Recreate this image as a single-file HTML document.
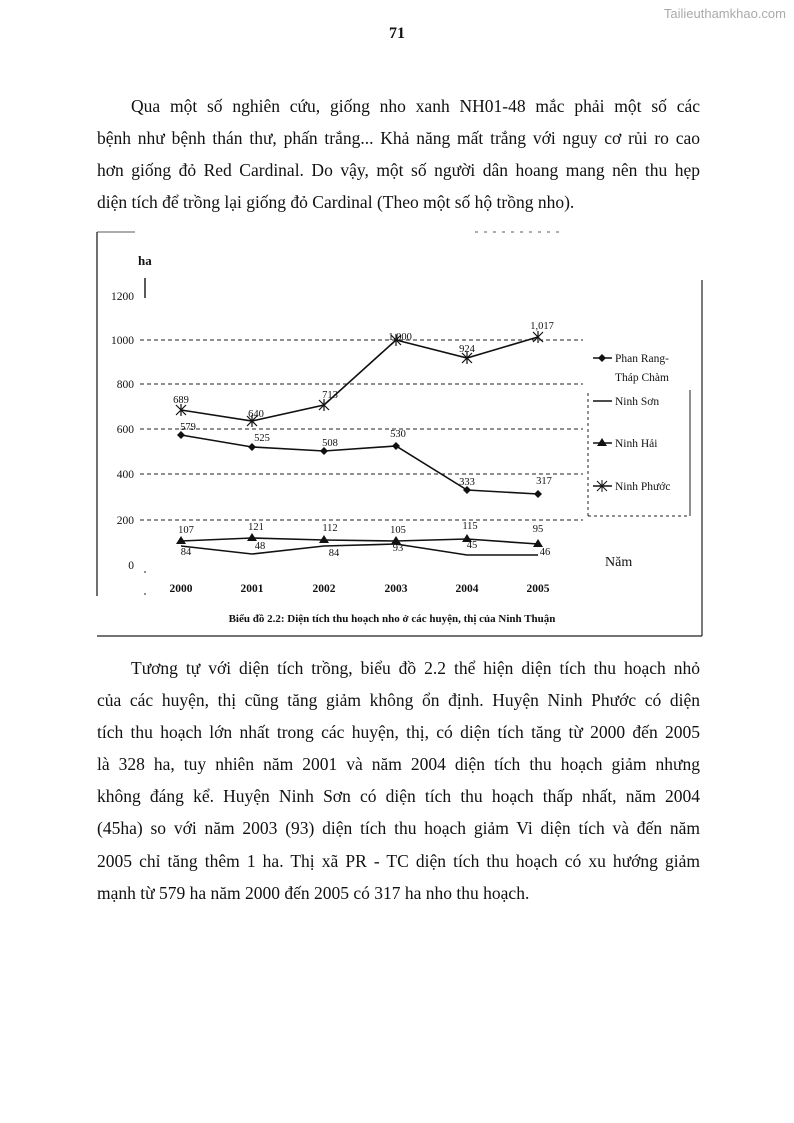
<!DOCTYPE html>
<html><head><meta charset="utf-8"><style>
body{margin:0;width:794px;height:1123px;background:#fff;position:relative;overflow:hidden;font-family:"Liberation Serif",serif;color:#111}
.l{position:absolute;left:97px;width:603px;font-size:17.5px;line-height:20px;white-space:nowrap;text-align:justify;text-align-last:justify}
.last{text-align-last:left}
</style></head><body>
<div style="position:absolute;right:8px;top:6px;font-family:'Liberation Sans',sans-serif;font-size:13px;color:#aaa">Tailieuthamkhao.com</div>
<div style="position:absolute;left:0;width:794px;top:25px;text-align:center;font-weight:bold;font-size:16px">71</div>

<div class="l" style="top:96px;left:131px;width:569px">Qua một số nghiên cứu, giống nho xanh NH01-48 mắc phải một số các</div>
<div class="l" style="top:128px">bệnh như bệnh thán thư, phấn trắng... Khả năng mất trắng với nguy cơ rủi ro cao</div>
<div class="l" style="top:160px">hơn giống đỏ Red Cardinal. Do vậy, một số người dân hoang mang nên thu hẹp</div>
<div class="l last" style="top:192px">diện tích để trồng lại giống đỏ Cardinal (Theo một số hộ trồng nho).</div>

<svg style="position:absolute;left:0;top:0" width="794" height="1123" font-family="Liberation Serif, serif">
<g stroke="#222" fill="none">
<line x1="97" y1="232" x2="97" y2="596" stroke-width="1.3"/>
<line x1="97" y1="636" x2="702" y2="636" stroke-width="1.3"/>
<line x1="702" y1="280" x2="702" y2="636" stroke-width="1.2"/>
<line x1="97" y1="232" x2="135" y2="232" stroke-width="0.8"/>
<line x1="475" y1="232" x2="560" y2="232" stroke-width="0.8" stroke-dasharray="3 6"/>
<line x1="145" y1="278" x2="145" y2="298" stroke-width="1.5"/>
<line x1="145" y1="595" x2="145" y2="565" stroke-width="1" stroke-dasharray="2 20"/>
<g stroke-dasharray="4 3" stroke-width="0.9">
<line x1="140" y1="340" x2="583" y2="340"/>
<line x1="140" y1="384" x2="583" y2="384"/>
<line x1="140" y1="429" x2="583" y2="429"/>
<line x1="140" y1="474" x2="583" y2="474"/>
<line x1="140" y1="520" x2="583" y2="520"/>
</g>
<line x1="588" y1="393" x2="588" y2="516" stroke-dasharray="3 3"/>
<line x1="588" y1="516" x2="690" y2="516" stroke-dasharray="3 3"/>
<line x1="690" y1="390" x2="690" y2="516"/>
</g>
<g font-size="11.5" fill="#111">
<text x="138" y="265" font-weight="bold" font-size="13">ha</text>
<text x="134" y="300" text-anchor="end">1200</text>
<text x="134" y="344" text-anchor="end">1000</text>
<text x="134" y="388" text-anchor="end">800</text>
<text x="134" y="433" text-anchor="end">600</text>
<text x="134" y="478" text-anchor="end">400</text>
<text x="134" y="524" text-anchor="end">200</text>
<text x="134" y="569" text-anchor="end">0</text>
<g text-anchor="middle" font-weight="bold">
<text x="181" y="592">2000</text><text x="252" y="592">2001</text><text x="324" y="592">2002</text><text x="396" y="592">2003</text><text x="467" y="592">2004</text><text x="538" y="592">2005</text>
</g>
<text x="605" y="566" font-size="14">Năm</text>
<text x="392" y="622" text-anchor="middle" font-weight="bold" font-size="11">Biểu đồ 2.2: Diện tích thu hoạch nho ở các huyện, thị của Ninh Thuận</text>
</g>
<g stroke="#111" stroke-width="1.6" fill="none">
<polyline points="181,410 252,421 324,405 396,340 467,358 538,337"/>
<polyline points="181,435 252,447 324,451 396,446 467,490 538,494"/>
<polyline points="181,541 252,538 324,540 396,541 467,539 538,544"/>
<polyline points="181,546 252,554 324,546 396,544 467,555 538,555"/>
</g>
<g stroke="#111" stroke-width="1.2">
<path d="M176,405l10,10M186,405l-10,10M181,404v12M247,416l10,10M257,416l-10,10M252,415v12M319,400l10,10M329,400l-10,10M324,399v12M391,335l10,10M401,335l-10,10M396,334v12M462,353l10,10M472,353l-10,10M467,352v12M533,332l10,10M543,332l-10,10M538,331v12"/>
</g>
<g fill="#111">
<path d="M181,431l4,4l-4,4l-4,-4zM252,443l4,4l-4,4l-4,-4zM324,447l4,4l-4,4l-4,-4zM396,442l4,4l-4,4l-4,-4zM467,486l4,4l-4,4l-4,-4zM538,490l4,4l-4,4l-4,-4z"/>
<path d="M181,536l5,8h-10zM252,533l5,8h-10zM324,535l5,8h-10zM396,536l5,8h-10zM467,534l5,8h-10zM538,539l5,8h-10z"/>
</g>
<g font-size="10.5" fill="#111" text-anchor="middle">
<text x="181" y="403">689</text><text x="256" y="417">640</text><text x="330" y="398">713</text><text x="400" y="340">1,000</text><text x="467" y="352">924</text><text x="542" y="329">1,017</text>
<text x="188" y="430">579</text><text x="262" y="441">525</text><text x="330" y="446">508</text><text x="398" y="437">530</text><text x="467" y="485">333</text><text x="544" y="484">317</text>
<text x="186" y="533">107</text><text x="256" y="530">121</text><text x="330" y="531">112</text><text x="398" y="533">105</text><text x="470" y="529">115</text><text x="538" y="532">95</text>
<text x="186" y="555">84</text><text x="260" y="549">48</text><text x="334" y="556">84</text><text x="398" y="551">93</text><text x="472" y="548">45</text><text x="545" y="555">46</text>
</g>
<g font-size="11.5" fill="#111">
<line x1="593" y1="358" x2="612" y2="358" stroke="#111" stroke-width="1.5"/><path d="M602,354l4,4l-4,4l-4,-4z"/>
<text x="615" y="362">Phan Rang-</text><text x="615" y="381">Tháp Chàm</text>
<line x1="593" y1="401" x2="612" y2="401" stroke="#111" stroke-width="1.5"/><text x="615" y="405">Ninh Sơn</text>
<line x1="593" y1="443" x2="612" y2="443" stroke="#111" stroke-width="1.5"/><path d="M602,438l5,8h-10z"/><text x="615" y="447">Ninh Hải</text>
<line x1="593" y1="486" x2="612" y2="486" stroke="#111" stroke-width="1.5"/><path d="M597,481l10,10M607,481l-10,10M602,480v12" stroke="#111"/><text x="615" y="490">Ninh Phước</text>
</g>
</svg>

<div class="l" style="top:658px;left:131px;width:569px">Tương tự với diện tích trồng, biểu đồ 2.2 thể hiện diện tích thu hoạch nhỏ</div>
<div class="l" style="top:690px">của các huyện, thị cũng tăng giảm không ổn định. Huyện Ninh Phước có diện</div>
<div class="l" style="top:722px">tích thu hoạch lớn nhất trong các huyện, thị, có diện tích tăng từ 2000 đến 2005</div>
<div class="l" style="top:754px">là 328 ha, tuy nhiên năm 2001 và năm 2004 diện tích thu hoạch giảm nhưng</div>
<div class="l" style="top:786px">không đáng kể. Huyện Ninh Sơn có diện tích thu hoạch thấp nhất, năm 2004</div>
<div class="l" style="top:818px">(45ha) so với năm 2003 (93) diện tích thu hoạch giảm Vi diện tích và đến năm</div>
<div class="l" style="top:851px">2005 chỉ tăng thêm 1 ha. Thị xã PR - TC diện tích thu hoạch có xu hướng giảm</div>
<div class="l last" style="top:883px">mạnh từ 579 ha năm 2000 đến 2005 có 317 ha nho thu hoạch.</div>
</body></html>
